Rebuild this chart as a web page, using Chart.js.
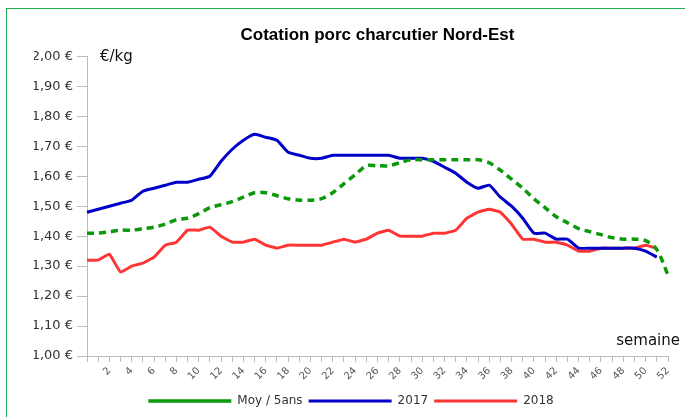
<!DOCTYPE html>
<html>
<head>
<meta charset="utf-8">
<script src="https://cdn.jsdelivr.net/npm/chart.js@4/dist/chart.umd.min.js"></script>
<style>
  html, body { margin: 0; padding: 0; background: #fff; overflow: hidden; }
  #wrap { position: relative; width: 685px; height: 417px; }
  #c { position: absolute; left: 0; top: 0; }
  #frame { position: absolute; left: 6px; top: 8px; width: 720px; height: 460px; border: 1.5px solid #1fae4f; pointer-events: none; }
</style>
</head>
<body>
<div id="wrap">
  <canvas id="c" width="685" height="417"></canvas>
  <div id="frame"></div>
</div>
<script>
// Week positions on the axis
const weeks = [0,1,2,3,4,5,6,7,8,9,10,11,12,13,14,15,16,17,18,19,20,21,22,23,24,25,26,27,28,29,30,31,32,33,34,35,36,37,38,39,40,41,42,43,44,45,46,47,48,49,50,51,52];
// Shown tick labels
const xTickLabels = ['2','4','6','8','10','12','14','16','18','20','22','24','26','28','30','32','34','36','38','40','42','44','46','48','50','52'];
const seriesNames = ['Moy / 5ans', '2017', '2018'];
const titleText = 'Cotation porc charcutier Nord-Est';
const yUnit = '€/kg';
const xUnit = 'semaine';

// Values (€/kg)
const moy5ans = [1.41,1.41,1.415,1.42,1.42,1.425,1.43,1.44,1.455,1.46,1.475,1.495,1.505,1.515,1.53,1.545,1.545,1.535,1.525,1.52,1.52,1.525,1.545,1.575,1.605,1.635,1.635,1.635,1.645,1.655,1.655,1.655,1.655,1.655,1.655,1.655,1.645,1.62,1.59,1.56,1.525,1.495,1.465,1.445,1.425,1.415,1.405,1.395,1.39,1.39,1.385,1.355,1.27];
const y2017 = [1.48,1.49,1.50,1.51,1.52,1.55,1.56,1.57,1.58,1.58,1.59,1.60,1.65,1.69,1.72,1.74,1.73,1.72,1.68,1.67,1.66,1.66,1.67,1.67,1.67,1.67,1.67,1.67,1.66,1.66,1.66,1.65,1.63,1.61,1.58,1.56,1.57,1.53,1.50,1.46,1.41,1.41,1.39,1.39,1.36,1.36,1.36,1.36,1.36,1.36,1.35,1.33];
const y2018 = [1.32,1.32,1.34,1.28,1.30,1.31,1.33,1.37,1.38,1.42,1.42,1.43,1.40,1.38,1.38,1.39,1.37,1.36,1.37,1.37,1.37,1.37,1.38,1.39,1.38,1.39,1.41,1.42,1.40,1.40,1.40,1.41,1.41,1.42,1.46,1.48,1.49,1.48,1.44,1.39,1.39,1.38,1.38,1.37,1.35,1.35,1.36,1.36,1.36,1.36,1.37,1.36];

const fmtEuro = v => v.toFixed(2).replace('.', ',') + ' €';

const unitsPlugin = {
  id: 'units',
  afterDraw(chart) {
    const ctx = chart.ctx;
    const a = chart.chartArea;
    ctx.save();
    ctx.fillStyle = '#111';
    ctx.font = '15px "DejaVu Sans"';
    ctx.textBaseline = 'middle';
    ctx.textAlign = 'left';
    ctx.fillText(yUnit, a.left + 13, a.top + 1);
    ctx.textAlign = 'right';
    ctx.fillText(xUnit, 680, a.bottom - 15);
    ctx.restore();
  }
};

new Chart(document.getElementById('c'), {
  type: 'line',
  data: {
    labels: weeks.map(String),
    datasets: [
      { label: seriesNames[0], data: moy5ans, borderColor: '#0a990a', backgroundColor: '#0a990a', borderWidth: 3.5, borderDash: [7, 5], tension: 0.3, pointRadius: 0 },
      { label: seriesNames[1], data: y2017, borderColor: '#0000c8', backgroundColor: '#0000c8', borderWidth: 3, tension: 0.15, pointRadius: 0 },
      { label: seriesNames[2], data: y2018, borderColor: '#ff3535', backgroundColor: '#ff3535', borderWidth: 3, tension: 0.1, pointRadius: 0 }
    ]
  },
  options: {
    responsive: false,
    animation: false,
    layout: { padding: { left: 34, right: 17, top: 0, bottom: 0 } },
    plugins: {
      title: {
        display: true, text: titleText, fullSize: false,
        color: '#000', font: { family: '"Liberation Sans"', size: 17, weight: 'bold' },
        padding: { top: 25, bottom: 11 }
      },
      legend: {
        position: 'bottom',
        labels: {
          usePointStyle: true, pointStyle: 'line', pointStyleWidth: 83, boxWidth: 83,
          color: '#333', font: { family: '"DejaVu Sans"', size: 12 }, padding: 6
        }
      },
      tooltip: { enabled: false }
    },
    scales: {
      x: {
        type: 'category',
        offset: false,
        afterFit: s => { s.height = 33; },
        border: { color: '#bdbdbd', width: 1 },
        grid: { drawOnChartArea: false, drawTicks: true, tickLength: 6, color: '#bdbdbd' },
        ticks: {
          autoSkip: false, maxRotation: 45, minRotation: 45, padding: 3,
          color: '#555', font: { family: '"DejaVu Sans"', size: 10 },
          callback: function (value) {
            const l = this.getLabelForValue(value);
            return xTickLabels.includes(l) ? l : '';
          }
        }
      },
      y: {
        min: 1, max: 2,
        afterFit: s => { s.width = 53; },
        border: { color: '#bdbdbd', width: 1 },
        grid: { drawOnChartArea: false, drawTicks: true, tickLength: 10, color: '#bdbdbd' },
        ticks: {
          stepSize: 0.1, padding: 4,
          color: '#333', font: { family: '"DejaVu Sans"', size: 13 },
          callback: v => fmtEuro(v)
        }
      }
    }
  },
  plugins: [unitsPlugin]
});
</script>
</body>
</html>
